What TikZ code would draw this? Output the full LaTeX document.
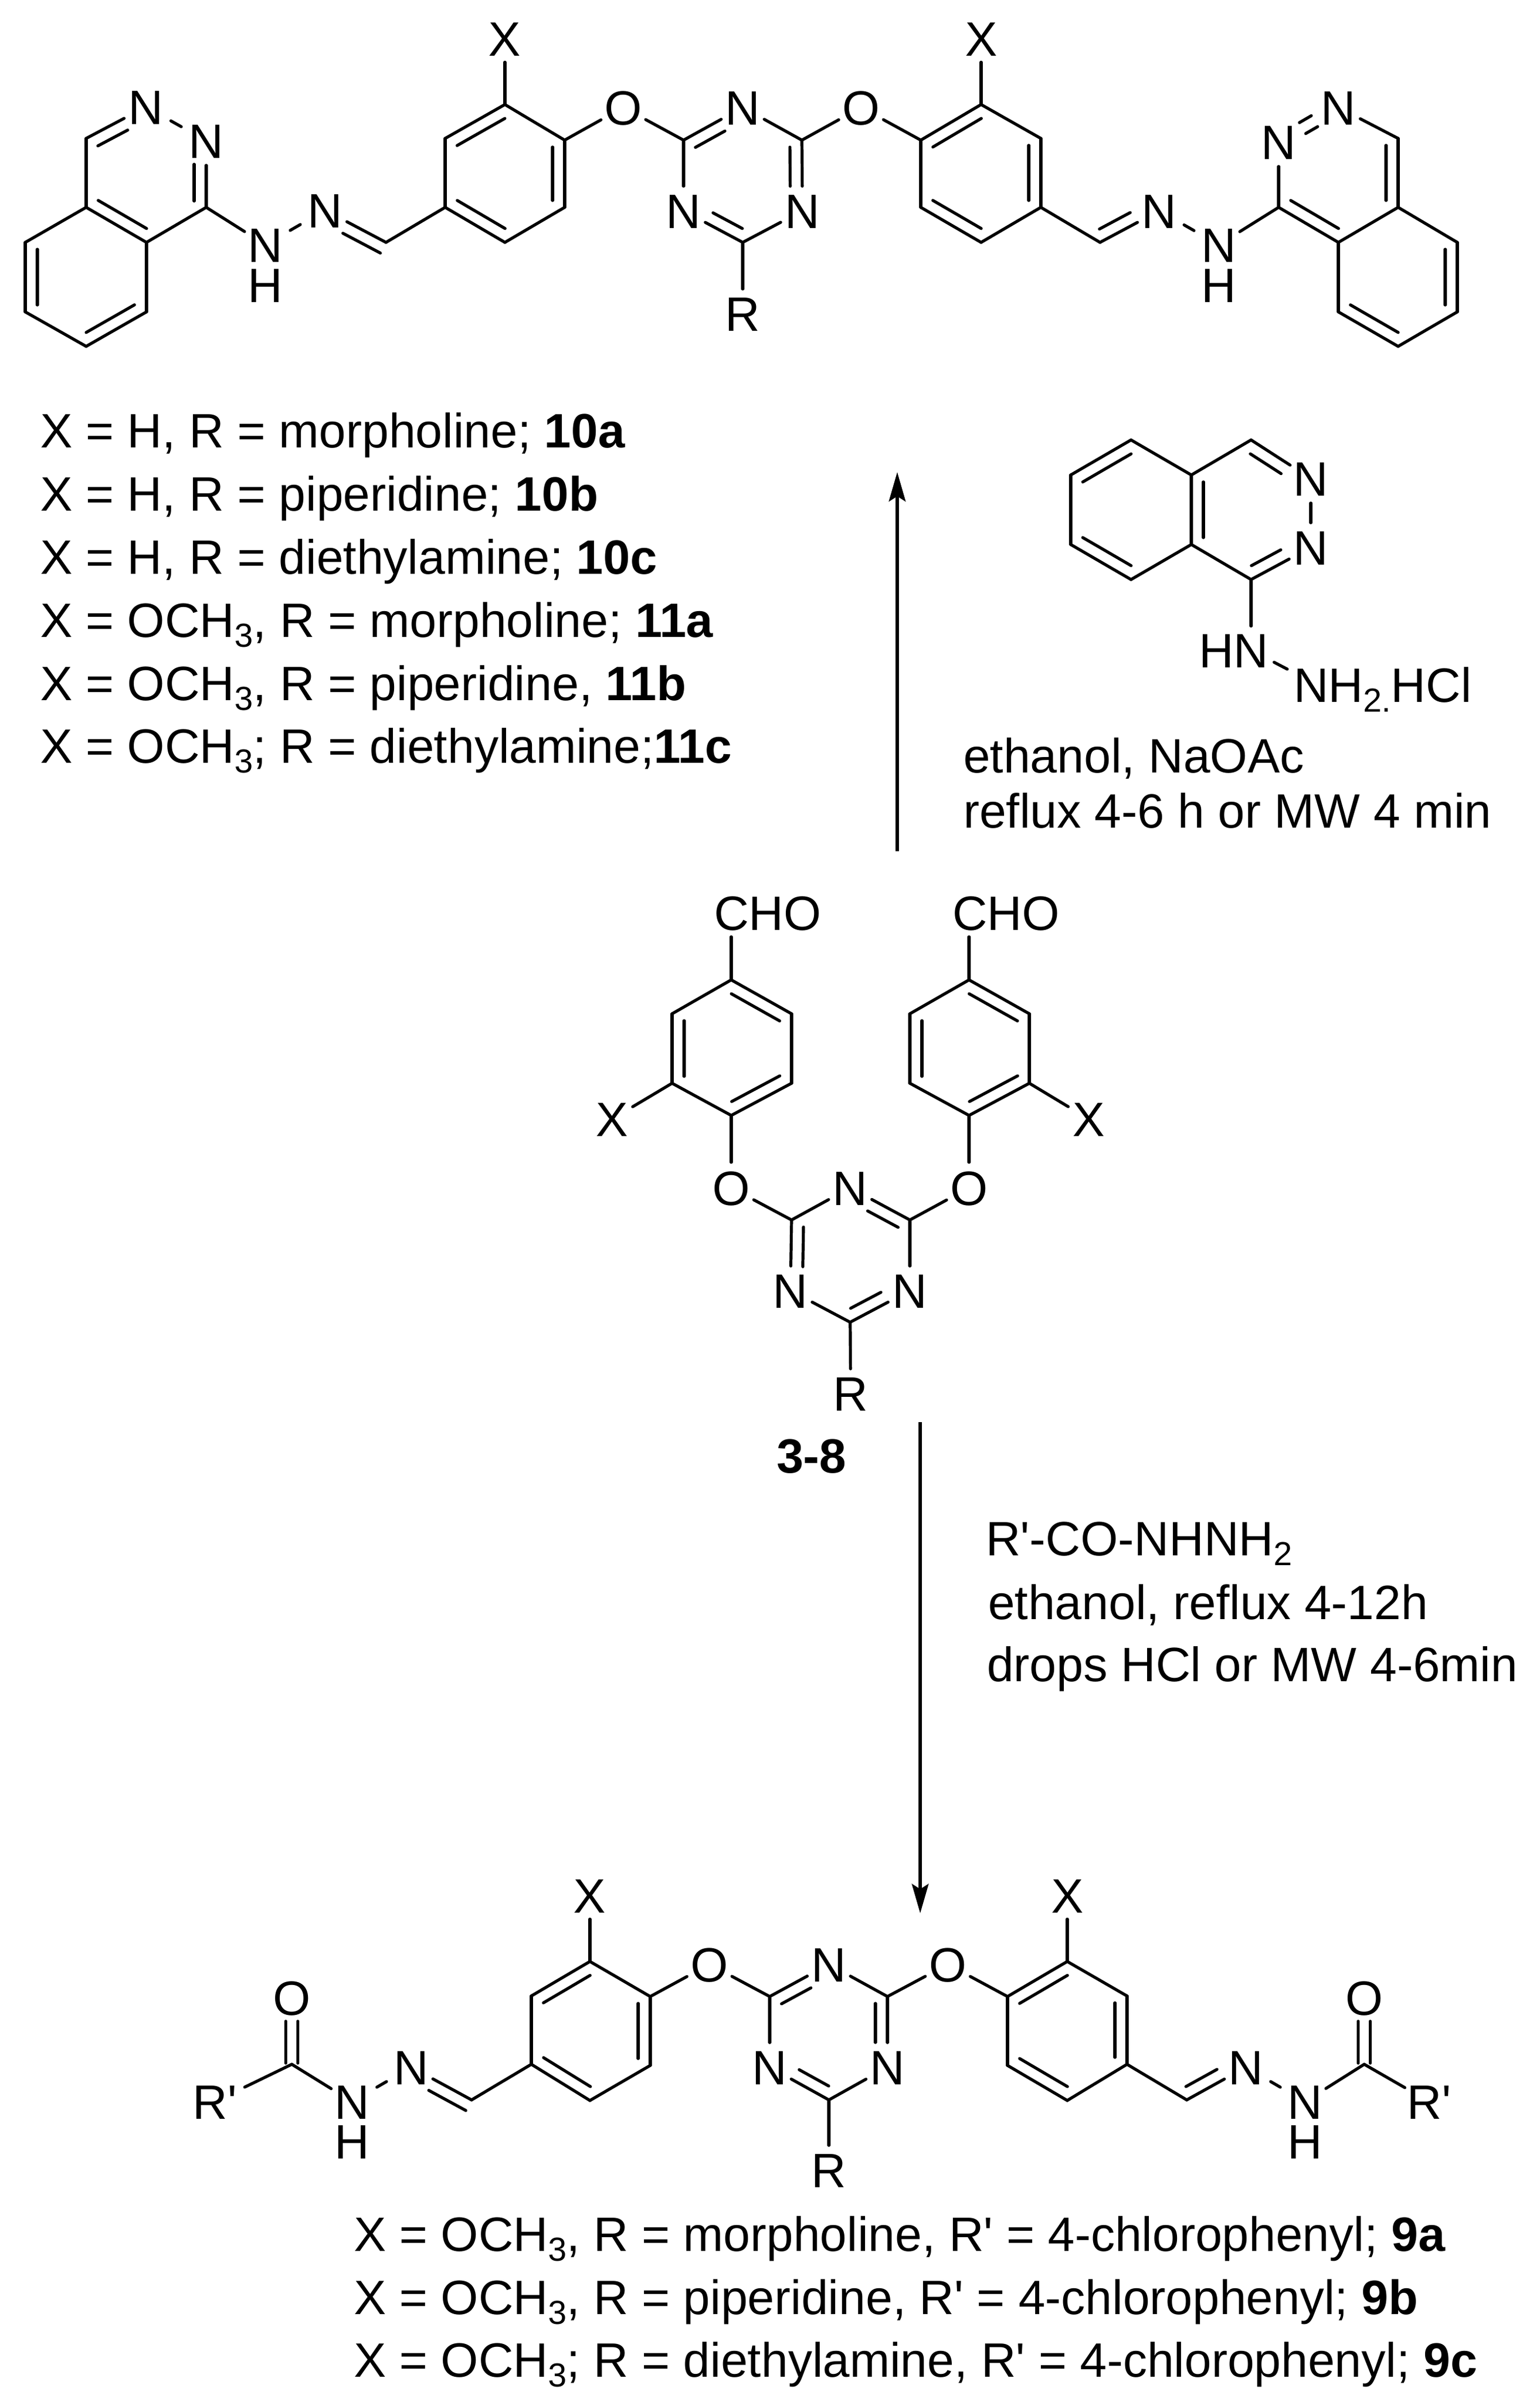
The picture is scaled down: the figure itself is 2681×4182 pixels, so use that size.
\documentclass[tikz,border=0pt]{standalone}
\usepackage{fontspec}
\usetikzlibrary{calc,arrows.meta}
\newfontfamily\arl[Ligatures=NoCommon]{Liberation Sans}
\newcommand\crd[3]{\coordinate (#1) at (#2,#3);}
\newcommand\atm[4]{\node[atom] (#1) at (#3,#4) {#2};}
\newcommand\lab[4]{\node[lbl] (#1) at (#2,#3) {#4};}
\newcommand\bd[2]{\draw[bond] (#1) -- (#2);}
\newcommand\sh[2]{\draw[bond,shortseg] (#1) -- (#2);}
\newcommand\inl[5]{\draw[bond] ($(#1)!#4pt!(#2)!#3pt!90:(#2)$) -- ($(#2)!#5pt!(#1)!#3pt!-90:(#1)$);}
\newcommand\lowsub[1]{\raisebox{-17pt}{\fontsize{58}{60}\selectfont #1}}
\tikzset{
  bond/.style={line width=5.2pt,line cap=round,line join=round,black},
  shortseg/.style={shorten <=7pt,shorten >=7pt},
  rxn/.style={line width=5.2pt,-{Stealth[length=51pt,width=29pt,inset=9pt]}},
  atom/.style={circle,inner sep=0pt,text height=60pt,text depth=0pt},
  lbl/.style={anchor=base west,inner sep=0pt}
}
\begin{document}
\begin{tikzpicture}[x=1pt,y=-1pt,every node/.append style={font=\arl\fontsize{84}{100}\selectfont,text=black}]
\useasboundingbox (0,0) rectangle (2681,4182);
\fill[white] (0,0) rectangle (2681,4182);
% ===== top product =====
\crd{a1}{150}{361}\crd{a2}{255}{422}\crd{a3}{255}{543}\crd{a4}{150}{603}\crd{a5}{44}{543}\crd{a6}{44}{422}
\crd{a7}{150}{241}\atm{a8}{N}{254}{186}\atm{a9}{N}{359}{245}\crd{a10}{359}{361}
\atm{a11}{N}{462}{426}\atm{a12}{H}{462}{496}\atm{a13}{N}{566}{366}\crd{a14}{672}{422}
\crd{r1}{775}{361}\crd{r2}{775}{241}\crd{r3}{879}{182}\crd{r4}{983}{244}\crd{r5}{983}{361}\crd{r6}{879}{422}
\atm{rx}{X}{879}{67}\atm{ro}{O}{1085}{187}
\crd{t1}{1190}{244}\atm{t2}{N}{1293}{187}\crd{t3}{1396}{244}\atm{t4}{N}{1397}{367}\crd{t5}{1293}{422}\atm{t6}{N}{1190}{367}\atm{tr}{R}{1293}{546}
\atm{qo}{O}{1499}{187}
\crd{q1}{1603}{244}\crd{q2}{1708}{182}\crd{q3}{1812}{241}\crd{q4}{1812}{361}\crd{q5}{1708}{422}\crd{q6}{1603}{361}\atm{qx}{X}{1708}{67}
\crd{q7}{1915}{422}\atm{q8}{N}{2018}{367}\atm{q9}{N}{2122}{426}\atm{q10}{H}{2122}{496}
\crd{p1}{2226}{361}\atm{p2}{N}{2226}{247}\atm{p3}{N}{2330}{187}\crd{p4}{2434}{241}\crd{p5}{2434}{361}\crd{p6}{2330}{422}
\crd{b1}{2537}{422}\crd{b2}{2537}{543}\crd{b3}{2434}{603}\crd{b4}{2330}{543}
% bonds
\bd{a1}{a2}\bd{a2}{a3}\bd{a3}{a4}\bd{a4}{a5}\bd{a5}{a6}\bd{a6}{a1}
\inl{a2}{a1}{-21}{12}{12}\inl{a3}{a4}{-21}{12}{12}\inl{a5}{a6}{-21}{12}{12}
\bd{a1}{a7}\bd{a7}{a8}\sh{a8}{a9}\bd{a9}{a10}\bd{a10}{a2}
\inl{a7}{a8}{-21}{12}{47}\inl{a9}{a10}{-21}{41}{11}
\bd{a10}{a11}\sh{a11}{a13}\bd{a13}{a14}\inl{a13}{a14}{-21}{46}{0}\bd{a14}{r1}
\bd{r1}{r2}\bd{r2}{r3}\bd{r3}{r4}\bd{r4}{r5}\bd{r5}{r6}\bd{r6}{r1}
\inl{r2}{r3}{-21}{12}{12}\inl{r4}{r5}{-21}{12}{12}\inl{r6}{r1}{-21}{12}{12}
\bd{r3}{rx}\bd{r4}{ro}\bd{ro}{t1}
\bd{t1}{t2}\bd{t2}{t3}\bd{t3}{t4}\bd{t4}{t5}\bd{t5}{t6}\bd{t6}{t1}\bd{t5}{tr}
\inl{t1}{t2}{-21}{12}{47}\inl{t3}{t4}{-21}{12}{43}\inl{t5}{t6}{-21}{12}{47}
\bd{t3}{qo}\bd{qo}{q1}
\bd{q1}{q2}\bd{q2}{q3}\bd{q3}{q4}\bd{q4}{q5}\bd{q5}{q6}\bd{q6}{q1}
\inl{q1}{q2}{-21}{12}{12}\inl{q3}{q4}{-21}{12}{12}\inl{q5}{q6}{-21}{12}{12}
\bd{q2}{qx}\bd{q4}{q7}\bd{q7}{q8}\inl{q7}{q8}{21}{10}{46}\sh{q8}{q9}\bd{q9}{p1}
\bd{p1}{p2}\bd{p3}{p4}\bd{p4}{p5}\bd{p5}{p6}\bd{p6}{p1}
\inl{p2}{p3}{11}{48}{48}\inl{p2}{p3}{-11}{48}{48}
\inl{p4}{p5}{-21}{12}{12}\inl{p6}{p1}{-21}{12}{12}
\bd{p5}{b1}\bd{b1}{b2}\bd{b2}{b3}\bd{b3}{b4}\bd{b4}{p6}
\inl{b1}{b2}{-21}{12}{12}\inl{b3}{b4}{-21}{12}{12}
% ===== left captions =====
\lab{c1}{70}{779}{X = H, R = morpholine; \textbf{10a}}
\lab{c2}{70}{889}{X = H, R = piperidine; \textbf{10b}}
\lab{c3}{70}{999}{X = H, R = diethylamine; \textbf{10c}}
\lab{c4}{70}{1109}{X = OCH\lowsub{3}, R = morpholine; \textbf{11a}}
\lab{c5}{70}{1219}{X = OCH\lowsub{3}, R = piperidine, \textbf{11b}}
\lab{c6}{70}{1328}{X = OCH\lowsub{3}; R = diethylamine;\textbf{11c}}
% ===== reagent =====
\crd{g1}{1969}{766}\crd{g2}{2074}{827}\crd{g3}{2074}{948}\crd{g4}{1969}{1009}\crd{g5}{1864}{948}\crd{g6}{1864}{827}
\crd{h1}{2178}{766}\atm{h2}{N}{2282}{833}\atm{h3}{N}{2282}{953}\crd{h4}{2178}{1009}
\bd{g1}{g2}\bd{g2}{g3}\bd{g3}{g4}\bd{g4}{g5}\bd{g5}{g6}\bd{g6}{g1}
\inl{g6}{g1}{-21}{12}{12}\inl{g2}{g3}{21}{12}{12}\inl{g4}{g5}{-21}{12}{12}
\bd{g2}{h1}\bd{h1}{h2}\bd{h2}{h3}\bd{h3}{h4}\bd{h4}{g3}
\inl{h1}{h2}{-21}{12}{48}\inl{h3}{h4}{-21}{48}{12}
\lab{hn}{2087}{1162}{HN}
\lab{nh2}{2252}{1222}{NH\lowsub{2.}HCl}
\crd{h5}{2178}{1090}\bd{h4}{h5}
\crd{h6}{2218}{1153}\crd{h7}{2241}{1165}\bd{h6}{h7}
\lab{e1}{1677}{1345}{ethanol, NaOAc}
\lab{e2}{1677}{1441}{reflux 4-6 h or MW 4 min}
% ===== reaction arrows =====
\crd{u0}{1562}{1482}\crd{u9}{1562}{822}\draw[rxn] (u0) -- (u9);
\crd{d0}{1602}{2476}\crd{d9}{1602}{3331}\draw[rxn] (d0) -- (d9);
% ===== middle =====
\lab{cho1}{1243}{1619}{CHO}\lab{cho2}{1658}{1619}{CHO}
\crd{lc}{1273}{1631}\crd{rc}{1687}{1631}
\crd{l1}{1273}{1706}\crd{l2}{1378}{1765}\crd{l3}{1378}{1886}\crd{l4}{1273}{1942}\crd{l5}{1170}{1886}\crd{l6}{1170}{1765}
\crd{s1}{1687}{1706}\crd{s2}{1792}{1765}\crd{s3}{1792}{1886}\crd{s4}{1687}{1942}\crd{s5}{1584}{1886}\crd{s6}{1584}{1765}
\atm{lx}{X}{1066}{1948}\atm{sx}{X}{1895}{1948}\atm{lo}{O}{1273}{2068}\atm{so}{O}{1687}{2068}
\crd{m1}{1378}{2124}\atm{m2}{N}{1480}{2068}\crd{m3}{1584}{2124}\atm{m4}{N}{1584}{2247}\crd{m5}{1480}{2302}\atm{m6}{N}{1376}{2247}\atm{mr}{R}{1481}{2426}
\bd{lc}{l1}\bd{rc}{s1}
\bd{l1}{l2}\bd{l2}{l3}\bd{l3}{l4}\bd{l4}{l5}\bd{l5}{l6}\bd{l6}{l1}
\inl{l1}{l2}{-21}{12}{12}\inl{l3}{l4}{-21}{12}{12}\inl{l5}{l6}{-21}{12}{12}
\bd{s1}{s2}\bd{s2}{s3}\bd{s3}{s4}\bd{s4}{s5}\bd{s5}{s6}\bd{s6}{s1}
\inl{s1}{s2}{-21}{12}{12}\inl{s3}{s4}{-21}{12}{12}\inl{s5}{s6}{-21}{12}{12}
\bd{l5}{lx}\bd{s3}{sx}\bd{l4}{lo}\bd{s4}{so}\bd{lo}{m1}\bd{so}{m3}
\bd{m1}{m2}\bd{m2}{m3}\bd{m3}{m4}\bd{m4}{m5}\bd{m5}{m6}\bd{m6}{m1}\bd{m5}{mr}
\inl{m2}{m3}{-21}{46}{12}\inl{m6}{m1}{-21}{42}{12}\inl{m4}{m5}{-21}{46}{12}
\lab{l38}{1352}{2564}{\textbf{3-8}}
\lab{f1}{1716}{2708}{R'-CO-NHNH\lowsub{2}}
\lab{f2}{1720}{2819}{ethanol, reflux 4-12h}
\lab{f3}{1718}{2927}{drops HCl or MW 4-6min}
% ===== bottom product =====
\atm{v0}{R'}{374}{3659}\crd{v1c}{508}{3594}\atm{v2c}{O}{508}{3478}\atm{v3c}{N}{613}{3659}\atm{v4c}{H}{613}{3728}\atm{v5c}{N}{716}{3599}\crd{v6c}{821}{3656}
\crd{v1}{925}{3594}\crd{v2}{925}{3475}\crd{v3}{1027}{3415}\crd{v4}{1132}{3476}\crd{v5}{1132}{3596}\crd{v6}{1027}{3657}
\atm{vx}{X}{1027}{3300}\atm{vo}{O}{1235}{3420}
\crd{w1}{1340}{3476}\atm{w2}{N}{1443}{3420}\crd{w3}{1545}{3476}\atm{w4}{N}{1545}{3599}\crd{w5}{1443}{3656}\atm{w6}{N}{1340}{3599}\atm{wr}{R}{1443}{3778}
\atm{wo}{O}{1650}{3420}
\crd{x1}{1754}{3476}\crd{x2}{1858}{3415}\crd{x3}{1962}{3475}\crd{x4}{1962}{3594}\crd{x5}{1858}{3657}\crd{x6}{1754}{3596}\atm{xx}{X}{1858}{3300}
\crd{y1}{2066}{3656}\atm{y2}{N}{2169}{3599}\atm{y3}{N}{2272}{3659}\atm{y4}{H}{2272}{3728}\crd{y5}{2375}{3594}\atm{y6}{O}{2375}{3478}\atm{y7}{R'}{2488}{3659}
\draw[bond,shorten >=9pt] (v1c) -- (v0);
\bd{v1c}{v3c}\sh{v3c}{v5c}\bd{v5c}{v6c}\inl{v5c}{v6c}{-21}{46}{0}\bd{v6c}{v1}
\inl{v1c}{v2c}{10.5}{2}{41}\inl{v1c}{v2c}{-10.5}{2}{41}
\bd{v1}{v2}\bd{v2}{v3}\bd{v3}{v4}\bd{v4}{v5}\bd{v5}{v6}\bd{v6}{v1}
\inl{v2}{v3}{-21}{12}{12}\inl{v4}{v5}{-21}{12}{12}\inl{v6}{v1}{-21}{12}{12}
\bd{v3}{vx}\bd{v4}{vo}\bd{vo}{w1}
\bd{w1}{w2}\bd{w2}{w3}\bd{w3}{w4}\bd{w4}{w5}\bd{w5}{w6}\bd{w6}{w1}\bd{w5}{wr}
\inl{w1}{w2}{-21}{12}{47}\inl{w3}{w4}{-21}{12}{43}\inl{w5}{w6}{-21}{12}{47}
\bd{w3}{wo}\bd{wo}{x1}
\bd{x1}{x2}\bd{x2}{x3}\bd{x3}{x4}\bd{x4}{x5}\bd{x5}{x6}\bd{x6}{x1}
\inl{x1}{x2}{-21}{12}{12}\inl{x3}{x4}{-21}{12}{12}\inl{x5}{x6}{-21}{12}{12}
\bd{x2}{xx}\bd{x4}{y1}\bd{y1}{y2}\inl{y1}{y2}{21}{10}{46}\sh{y2}{y3}\bd{y3}{y5}\bd{y5}{y7}
\inl{y5}{y6}{10.5}{2}{41}\inl{y5}{y6}{-10.5}{2}{41}
% ===== bottom captions =====
\lab{k1}{616}{3919}{X = OCH\lowsub{3}, R = morpholine, R' = 4-chlorophenyl; \textbf{9a}}
\lab{k2}{616}{4029}{X = OCH\lowsub{3}, R = piperidine, R' = 4-chlorophenyl; \textbf{9b}}
\lab{k3}{616}{4138}{X = OCH\lowsub{3}; R = diethylamine, R' = 4-chlorophenyl; \textbf{9c}}
\end{tikzpicture}
\end{document}
